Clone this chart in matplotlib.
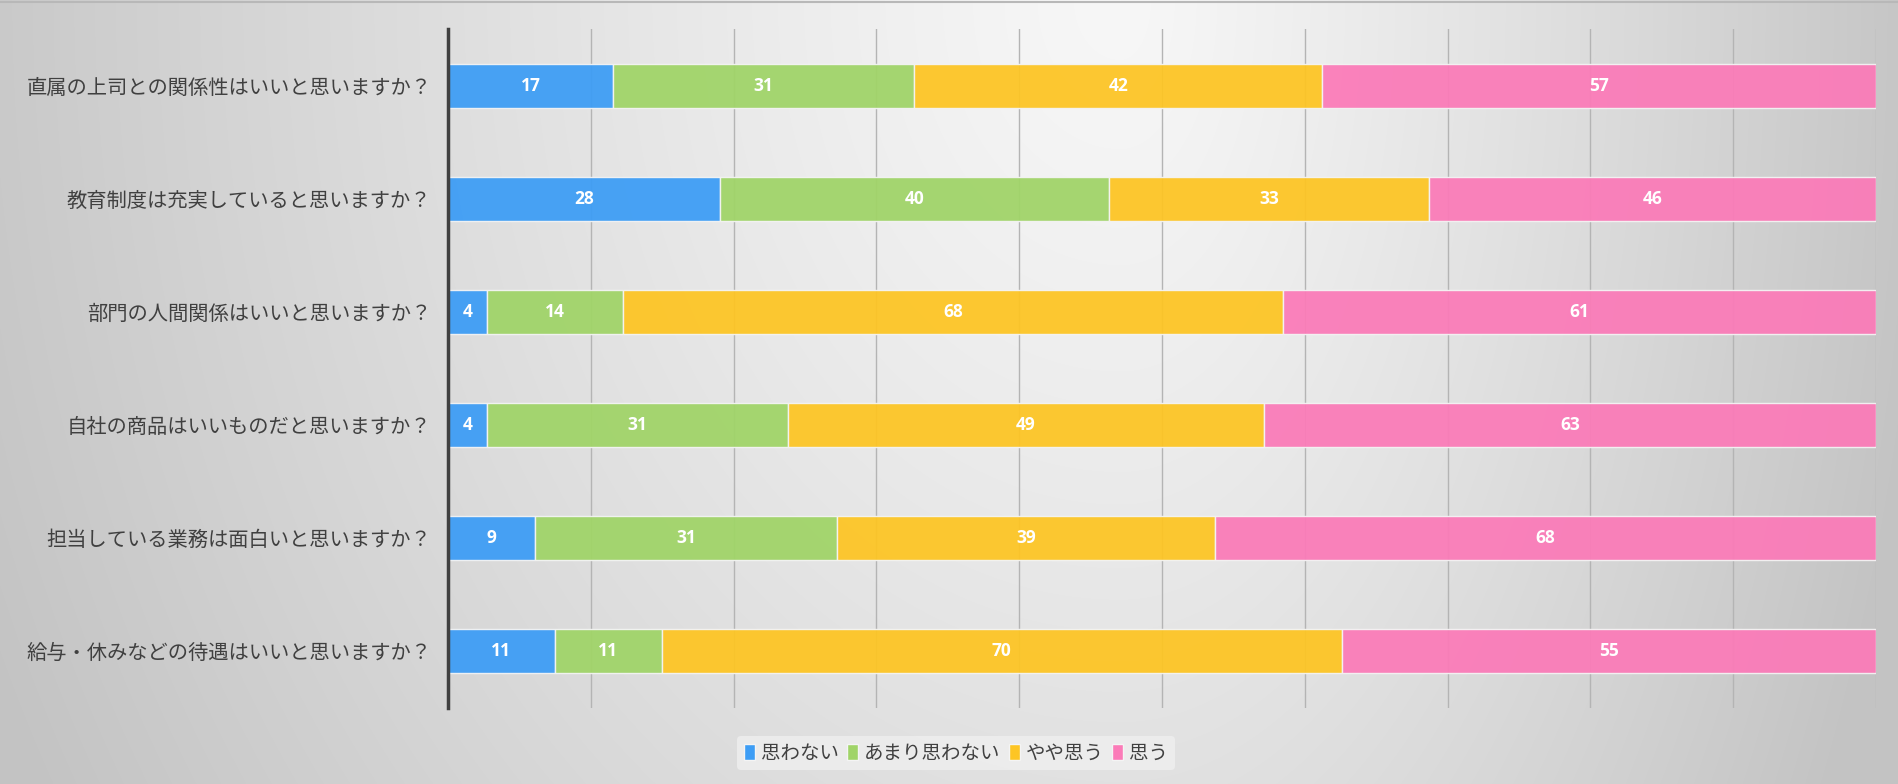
import numpy as np
import matplotlib.pyplot as plt
import matplotlib as mpl

mpl.rcParams['font.family'] = ['Noto Sans CJK JP', 'DejaVu Sans']
mpl.rcParams['axes.unicode_minus'] = False

questions = [
    "直属の上司との関係性はいいと思いますか？",
    "教育制度は充実していると思いますか？",
    "部門の人間関係はいいと思いますか？",
    "自社の商品はいいものだと思いますか？",
    "担当している業務は面白いと思いますか？",
    "給与・休みなどの待遇はいいと思いますか？",
]
series_names = ["思わない", "あまり思わない", "やや思う", "思う"]
omowanai = [17, 28, 4, 4, 9, 11]
amari = [31, 40, 14, 31, 31, 11]
yaya = [42, 33, 68, 49, 39, 70]
omou = [57, 46, 61, 63, 68, 55]
colors = ["#3d9df5", "#a0d468", "#fdc524", "#fb7bb8"]

W, H = 1898, 784
fig = plt.figure(figsize=(W / 100, H / 100), dpi=100)

# 背景グラデーション
bg = fig.add_axes([0, 0, 1, 1], zorder=-10)
xx, yy = np.meshgrid(np.arange(W), np.arange(H))
cx = 1120
dx = np.where(xx < cx, (xx - cx) / 1250, (xx - cx) / 820)
dy = yy / 1600
r = np.clip(np.sqrt(dx ** 2 + dy ** 2), 0, 1)
v = (247 - 52 * r ** 1.2) / 255
bg.imshow(np.dstack([v, v, v]), aspect='auto', extent=[0, W, H, 0])
bg.plot([0, W], [2, 2], color="#b8b8b8", lw=1.5)
bg.set_xlim(0, W)
bg.set_ylim(H, 0)
bg.axis('off')

ax = fig.add_axes([448 / W, 1 - 708 / H, (1876 - 448) / W, (708 - 29) / H])
ax.patch.set_alpha(0)

data = np.array([omowanai, amari, yaya, omou], dtype=float)
totals = data.sum(axis=0)
pct = data / totals * 100
y = np.arange(len(questions))
left = np.zeros(len(questions))
for i, name in enumerate(series_names):
    bars = ax.barh(y, pct[i], left=left, height=0.39, color=colors[i],
                   edgecolor="#f4f4f4", linewidth=1.0, alpha=0.94,
                   label=name, zorder=3)
    ax.bar_label(bars, labels=[f"{int(n)}" for n in data[i]],
                 label_type='center', color='white', fontsize=12.5,
                 fontweight='bold', family=['Open Sans', 'DejaVu Sans'])
    left += pct[i]

ax.set_xlim(0, 100)
ax.set_ylim(len(questions) - 0.5, -0.5)
ax.set_xticks(np.arange(0, 101, 10))
ax.set_xticklabels([])
ax.tick_params(axis='x', length=0)
ax.tick_params(axis='y', length=0, pad=12)
ax.set_yticks(y)
ax.set_yticklabels(questions, fontsize=14.6, color="#404040")
ax.grid(axis='x', color="#b4b4b4", linewidth=1, zorder=0)
for s in ['top', 'right', 'bottom']:
    ax.spines[s].set_visible(False)
ax.spines['left'].set_color("#404040")
ax.spines['left'].set_linewidth(2.5)
ax.spines['left'].set_zorder(5)

leg = fig.legend(loc='center', bbox_to_anchor=(956 / W, 1 - 753 / H), ncol=4,
                 frameon=True, fontsize=14, handlelength=0.55, handleheight=0.9,
                 handletextpad=0.3, columnspacing=0.45, borderpad=0.35)
leg.get_frame().set_facecolor("#efefef")
leg.get_frame().set_edgecolor("none")
leg.get_frame().set_alpha(0.8)
for t in leg.get_texts():
    t.set_color("#404040")
for h in leg.legend_handles:
    h.set_alpha(1)

fig.savefig("out.png", dpi=100)
